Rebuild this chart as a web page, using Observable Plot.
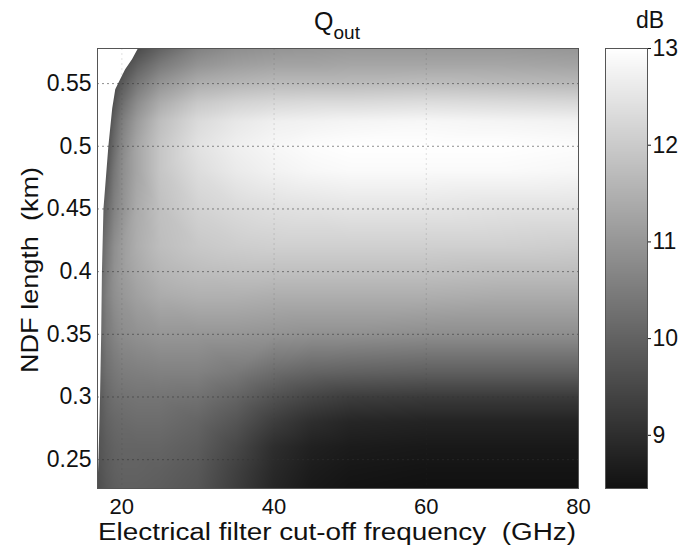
<!DOCTYPE html>
<html><head><meta charset="utf-8">
<script src="https://cdn.jsdelivr.net/npm/d3@7"></script>
<script src="https://cdn.jsdelivr.net/npm/@observablehq/plot@0.6"></script>
<style>
body{margin:0;background:#fff;}
#wrap{position:relative;width:684px;height:548px;overflow:hidden;font-family:"Liberation Sans",Arial,sans-serif;}
#wrap svg{position:absolute;top:0;}
</style></head><body><div id="wrap"></div>
<script>
// Electrical filter cut-off frequency (GHz) sample columns
const freqs = [16.8, 18, 19, 20, 22, 25, 30, 35, 40, 45, 50, 60, 70, 80];
// NDF length (km) sample rows
const lengths = [0.227, 0.24, 0.26, 0.28, 0.30, 0.32, 0.35, 0.38, 0.40, 0.42, 0.45, 0.48, 0.50, 0.52, 0.535, 0.55, 0.565, 0.578];
// Q_out (dB), one row per length, one column per frequency
const qRows = [
  [9.6, 9.8, 9.9, 9.95, 9.95, 9.9, 9.75, 9.3, 8.85, 8.6, 8.5, 8.45, 8.45, 8.45],
  [9.65, 9.85, 9.95, 10.0, 10.0, 9.95, 9.8, 9.35, 8.9, 8.65, 8.55, 8.5, 8.5, 8.5],
  [9.7, 9.9, 10.0, 10.05, 10.05, 10.05, 9.9, 9.5, 9.0, 8.75, 8.65, 8.6, 8.6, 8.6],
  [9.75, 10.0, 10.1, 10.15, 10.2, 10.2, 10.05, 9.75, 9.3, 9.0, 8.85, 8.8, 8.8, 8.8],
  [9.8, 10.1, 10.25, 10.3, 10.35, 10.35, 10.3, 10.05, 9.7, 9.45, 9.3, 9.25, 9.25, 9.25],
  [9.9, 10.25, 10.4, 10.5, 10.55, 10.6, 10.6, 10.45, 10.2, 10.05, 10.0, 9.95, 9.95, 9.95],
  [10.0, 10.45, 10.65, 10.8, 10.9, 11.0, 11.0, 11.0, 10.95, 10.9, 10.9, 10.85, 10.85, 10.85],
  [10.0, 10.55, 10.85, 11.0, 11.2, 11.4, 11.5, 11.5, 11.45, 11.45, 11.45, 11.45, 11.4, 11.4],
  [9.9, 10.5, 10.9, 11.1, 11.35, 11.6, 11.75, 11.8, 11.8, 11.8, 11.8, 11.8, 11.75, 11.75],
  [9.8, 10.4, 10.85, 11.1, 11.45, 11.75, 11.95, 12.05, 12.1, 12.1, 12.1, 12.1, 12.1, 12.05],
  [9.6, 10.1, 10.6, 10.9, 11.4, 11.8, 12.15, 12.3, 12.4, 12.45, 12.5, 12.5, 12.45, 12.45],
  [9.4, 9.8, 10.4, 10.8, 11.3, 11.9, 12.35, 12.6, 12.75, 12.85, 12.9, 12.9, 12.9, 12.85],
  [9.3, 9.6, 10.2, 10.7, 11.3, 11.9, 12.45, 12.7, 12.85, 12.95, 13.0, 13.0, 13.0, 12.95],
  [9.2, 9.4, 10.0, 10.5, 11.1, 11.75, 12.3, 12.55, 12.7, 12.75, 12.8, 12.85, 12.8, 12.75],
  [9.1, 9.25, 9.75, 10.2, 10.8, 11.4, 11.95, 12.15, 12.25, 12.3, 12.3, 12.35, 12.3, 12.25],
  [9.0, 9.1, 9.45, 9.85, 10.4, 10.95, 11.45, 11.6, 11.7, 11.7, 11.7, 11.75, 11.7, 11.65],
  [8.9, 9.0, 9.2, 9.5, 9.95, 10.45, 10.95, 11.15, 11.25, 11.25, 11.3, 11.3, 11.3, 11.25],
  [8.8, 8.9, 9.0, 9.2, 9.55, 10.0, 10.6, 10.85, 10.95, 11.0, 11.05, 11.05, 11.05, 11.0]
];
// boundary of the undefined (white) region at upper left
const edgeLen  = [0.227, 0.25, 0.30, 0.35, 0.40, 0.45, 0.50, 0.53, 0.545, 0.55, 0.561, 0.569, 0.578];
const edgeFreq = [16.85, 17.0, 17.2, 17.35, 17.45, 17.65, 18.3, 18.8, 19.2, 19.6, 20.5, 21.4, 22.2];

const xTicks = [20, 40, 60, 80];
const yTicks = [0.25, 0.3, 0.35, 0.4, 0.45, 0.5, 0.55];
const cTicks = [9, 10, 11, 12, 13];
const xDomain = [16.8, 80];
const yDomain = [0.227, 0.578];
const cDomain = [8.45, 13];
const grayRange = ["#111111", "#ffffff"];

const cells = lengths.flatMap((L, i) => freqs.map((f, j) => ({f, L, q: qRows[i][j]})));
const edge = edgeLen.map((L, i) => ({L, f: edgeFreq[i]}));

const font = '"Liberation Sans", Arial, sans-serif';

const main = Plot.plot({
  width: 684, height: 548,
  marginLeft: 97, marginRight: 106, marginTop: 48, marginBottom: 60,
  style: {fontFamily: font, fontSize: "22px", background: "transparent", color: "#111"},
  x: {domain: xDomain},
  y: {domain: yDomain},
  color: {type: "linear", domain: cDomain, range: grayRange},
  marks: [
    Plot.raster(cells, {x: "f", y: "L", fill: "q", interpolate: "barycentric"}),
    Plot.areaX(edge, {x1: xDomain[0], x2: "f", y: "L", fill: "white"}),
    Plot.gridY(yTicks, {stroke: "#333", strokeOpacity: 0.55, strokeDasharray: "2,3"}),
    Plot.gridX(xTicks, {stroke: "#333", strokeOpacity: 0.15, strokeDasharray: "2,3"}),
    Plot.frame({stroke: "#555"}),
    Plot.axisX(xTicks, {tickSize: 0, tickPadding: 10, label: null, fontSize: 22}),
    Plot.axisY(yTicks, {tickSize: 0, tickPadding: 6, label: null, fontSize: 23, tickFormat: d => String(d)})
  ]
});

const bar = Plot.plot({
  width: 79, height: 548,
  marginLeft: 0, marginRight: 37, marginTop: 48, marginBottom: 60,
  style: {fontFamily: font, fontSize: "23px", background: "transparent", color: "#111", overflow: "visible"},
  x: {domain: [0, 1], axis: null},
  y: {domain: cDomain},
  color: {type: "linear", domain: cDomain, range: grayRange},
  marks: [
    Plot.raster({x1: 0, x2: 1, y1: cDomain[0], y2: cDomain[1], fill: (x, y) => y}),
    Plot.frame({stroke: "#555"}),
    Plot.axisY(cTicks, {anchor: "right", tickSize: 3, tickPadding: 2, label: null, fontSize: 23, tickFormat: d => String(d)})
  ]
});
bar.style.left = "605px";

const wrap = document.getElementById("wrap");
wrap.appendChild(main);
wrap.appendChild(bar);

const svg = d3.select(main);
const t = svg.append("text").attr("x", 337).attr("y", 30).attr("text-anchor", "middle")
  .attr("font-family", font).attr("font-size", 25).attr("fill", "#111");
t.append("tspan").text("Q");
t.append("tspan").attr("dy", 9).attr("font-size", 19).text("out");

svg.append("text").attr("x", 337).attr("y", 540).attr("text-anchor", "middle")
  .attr("font-family", font).attr("font-size", 23).attr("fill", "#111")
  .attr("textLength", 478).attr("lengthAdjust", "spacingAndGlyphs")
  .text("Electrical filter cut-off frequency  (GHz)");

svg.append("text").attr("transform", "translate(38,270) rotate(-90)").attr("text-anchor", "middle")
  .attr("font-family", font).attr("font-size", 24).attr("fill", "#111")
  .attr("textLength", 206).attr("lengthAdjust", "spacingAndGlyphs")
  .text("NDF length  (km)");

d3.select(bar).append("text").attr("x", 45).attr("y", 28)
  .attr("font-family", font).attr("font-size", 23).attr("fill", "#111").text("dB");
</script></body></html>
